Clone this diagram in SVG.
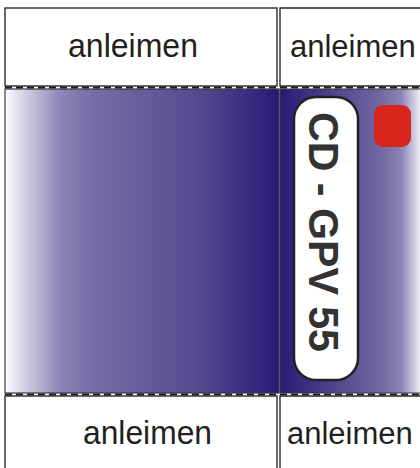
<svg xmlns="http://www.w3.org/2000/svg" width="420" height="468" viewBox="0 0 420 468">
<defs>
<linearGradient id="gl" x1="5" y1="0" x2="279" y2="0" gradientUnits="userSpaceOnUse">
<stop offset="0" stop-color="#ffffff"/>
<stop offset="0.04" stop-color="#e4e2ee"/>
<stop offset="0.2" stop-color="#8e86b8"/>
<stop offset="0.32" stop-color="#776ca6"/>
<stop offset="0.7" stop-color="#574a90"/>
<stop offset="1" stop-color="#281a76"/>
</linearGradient>
<linearGradient id="gr" x1="280" y1="0" x2="422" y2="0" gradientUnits="userSpaceOnUse">
<stop offset="0" stop-color="#281a76"/>
<stop offset="0.35" stop-color="#4e4189"/>
<stop offset="0.7" stop-color="#7165a2"/>
<stop offset="0.85" stop-color="#8a82b4"/>
<stop offset="0.97" stop-color="#e0deec"/>
<stop offset="1" stop-color="#ffffff"/>
</linearGradient>
</defs>
<style>
.box{fill:#fff;stroke:#2a2a2a;stroke-width:1.4}
.edge{fill:none;stroke:#2a2a2a;stroke-width:1.4}
.dash{stroke:#1a1a1a;stroke-width:2.2;stroke-dasharray:7,4;fill:none}
.lbl{font-family:"Liberation Sans",Arial,sans-serif;font-size:33px;fill:#231f20}
.lbr{font-family:"Liberation Sans",Arial,sans-serif;font-size:31px;fill:#231f20}
.panel{stroke:#3a3a3a;stroke-width:1.2}
</style>
<g id="top-left"><rect class="box" x="5" y="8" width="272" height="78"/><text class="lbl" x="68" y="57" textLength="130" lengthAdjust="spacingAndGlyphs">anleimen</text></g>
<g id="top-right"><rect x="280" y="8" width="140" height="78" fill="#fff"/><path class="edge" d="M420,8 H280 V86 H420"/><text class="lbr" x="290" y="57">anleimen</text></g>
<g id="panel-left"><rect class="panel" x="5" y="89" width="274" height="304" fill="url(#gl)"/></g>
<g id="panel-right"><rect x="280" y="89" width="140" height="304" fill="url(#gr)"/><path d="M420,89 H280 V393 H420" fill="none" stroke="#3a3a3a" stroke-width="1.2"/>
<rect x="294" y="97" width="64" height="283" rx="22" fill="#fff" stroke="#222" stroke-width="2.5"/>
<text transform="translate(309,232) rotate(90)" text-anchor="middle" font-family="Liberation Sans, Arial, sans-serif" font-weight="bold" font-size="42" fill="#333" textLength="240" lengthAdjust="spacingAndGlyphs">CD - GPV 55</text>
<rect x="374" y="105" width="37" height="42" rx="9" fill="#d9261c"/></g>
<g id="connectors"><line class="dash" x1="5" y1="87.5" x2="420" y2="87.5"/><line class="dash" x1="5" y1="394.5" x2="420" y2="394.5"/></g>
<g id="bottom-left"><rect class="box" x="5" y="396" width="272" height="78"/><text class="lbl" x="83" y="444" textLength="129" lengthAdjust="spacingAndGlyphs">anleimen</text></g>
<g id="bottom-right"><rect x="280" y="396" width="140" height="72" fill="#fff"/><path class="edge" d="M420,396 H280 V468"/><text class="lbr" x="287" y="444">anleimen</text></g>
</svg>
